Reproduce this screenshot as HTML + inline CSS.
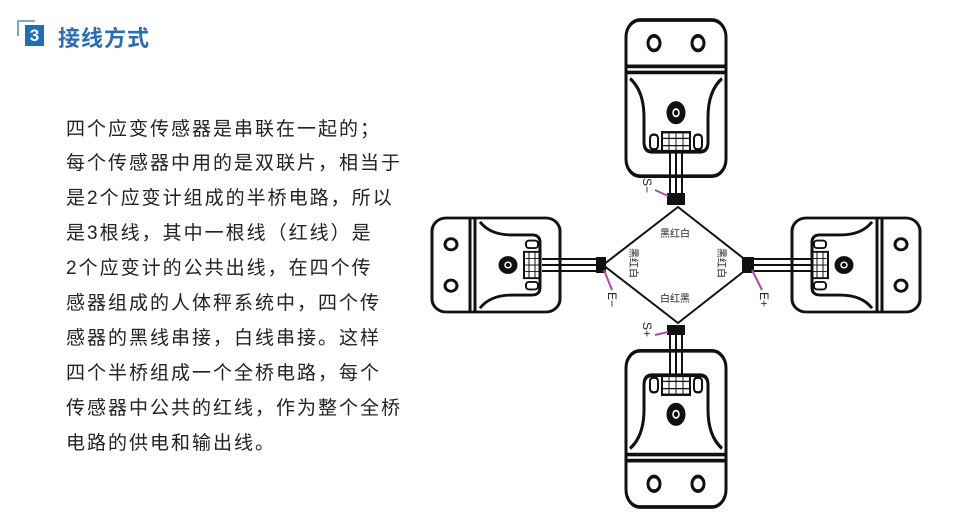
<!DOCTYPE html>
<html><head><meta charset="utf-8"><style>
body{margin:0;width:957px;height:525px;background:#fff;overflow:hidden;position:relative;font-family:"Liberation Sans","Noto Sans CJK SC",sans-serif}
.t{position:absolute;left:66px;font-size:19px;letter-spacing:2px;color:#222;line-height:20px;white-space:nowrap}
</style></head><body>
<div style="position:absolute;left:17px;top:20px;width:16px;height:14px;border:2px solid #7aa8d0;border-right:none;border-bottom:none"></div>
<div style="position:absolute;left:25px;top:25px;width:19px;height:21px;background:#1f6fb5;color:#fff;font-weight:bold;font-size:17px;text-align:center;line-height:21px">3</div>
<div style="position:absolute;left:58px;top:21px;font-size:22px;letter-spacing:1px;color:#2a6db0;font-weight:bold">接线方式</div>
<div class="t" style="top:120px">四个应变传感器是串联在一起的；</div>
<div class="t" style="top:154px">每个传感器中用的是双联片，相当于</div>
<div class="t" style="top:189px">是2个应变计组成的半桥电路，所以</div>
<div class="t" style="top:224px">是3根线，其中一根线（红线）是</div>
<div class="t" style="top:259px">2个应变计的公共出线，在四个传</div>
<div class="t" style="top:294px">感器组成的人体秤系统中，四个传</div>
<div class="t" style="top:329px">感器的黑线串接，白线串接。这样</div>
<div class="t" style="top:364px">四个半桥组成一个全桥电路，每个</div>
<div class="t" style="top:399px">传感器中公共的红线，作为整个全桥</div>
<div class="t" style="top:434px">电路的供电和输出线。</div>
<svg width="957" height="525" style="position:absolute;left:0;top:0">
<defs>
<g id="s" fill="none" stroke="#111" stroke-width="3">
<rect x="-50" y="0" width="100" height="128" rx="14" fill="#fff"/>
<line x1="-50" y1="38" x2="50" y2="38"/><line x1="-50" y1="43" x2="50" y2="43"/>
<circle cx="-22" cy="19" r="6"/><circle cx="22" cy="19" r="6"/>
<path d="M-46 48 Q-32 58 -32 80 L-32 100 Q-32 108 -24 108 L24 108 Q32 108 32 100 L32 80 Q32 58 46 48"/>
<circle cx="0" cy="76" r="8" fill="#111"/><circle cx="0" cy="76" r="3" stroke="#fff" stroke-width="1.5"/>
<rect x="-14" y="92" width="28" height="16" stroke-width="2"/>
<path d="M-14 97 H14 M-14 103 H14 M-7 92 V108 M0 92 V108 M7 92 V108" stroke-width="1"/>
<rect x="-26" y="94" width="8" height="12" rx="3" stroke-width="2"/><rect x="18" y="94" width="8" height="12" rx="3" stroke-width="2"/>
</g>
</defs>
<use href="#s" transform="translate(676,20) scale(1,1.22)"/>
<use href="#s" transform="translate(676,507) scale(1,-1.22)"/>
<use href="#s" transform="translate(432,265) rotate(-90) scale(0.94,1)"/>
<use href="#s" transform="translate(920,265) rotate(90) scale(0.94,1)"/>
<g stroke="#111" stroke-width="2">
<path d="M670 152 V205 M676 152 V205 M682 152 V205"/>
<path d="M670 330 V375 M676 330 V375 M682 330 V375"/>
<path d="M542 259 H605 M542 265 H605 M542 271 H605"/>
<path d="M750 259 H811 M750 265 H811 M750 271 H811"/>
</g>
<path d="M678 207 L603 265 L678 323 L752 265 Z" fill="none" stroke="#111" stroke-width="2"/>
<g fill="#111"><rect x="667" y="193" width="18" height="12"/><rect x="667" y="325" width="18" height="10"/><rect x="596" y="257" width="10" height="16"/><rect x="742" y="257" width="12" height="16"/></g>
<g stroke="#b04aa8" stroke-width="2"><line x1="655" y1="190" x2="668" y2="196"/><line x1="604" y1="270" x2="612" y2="290"/><line x1="752" y1="270" x2="762" y2="290"/><line x1="655" y1="335" x2="668" y2="332"/></g>
<g font-size="12" fill="#222">
<text transform="translate(643,178) rotate(90)">S−</text>
<text transform="translate(608,292) rotate(90)">E−</text>
<text transform="translate(760,292) rotate(90)">E+</text>
<text transform="translate(643,322) rotate(90)">S+</text>
<text x="660" y="237" font-size="10">黑红白</text>
<text x="660" y="302" font-size="10">白红黑</text>
<text transform="translate(630,248) rotate(90)" font-size="10">黑红白</text>
<text transform="translate(718,248) rotate(90)" font-size="10">黑红白</text>
</g>
</svg>
</body></html>
